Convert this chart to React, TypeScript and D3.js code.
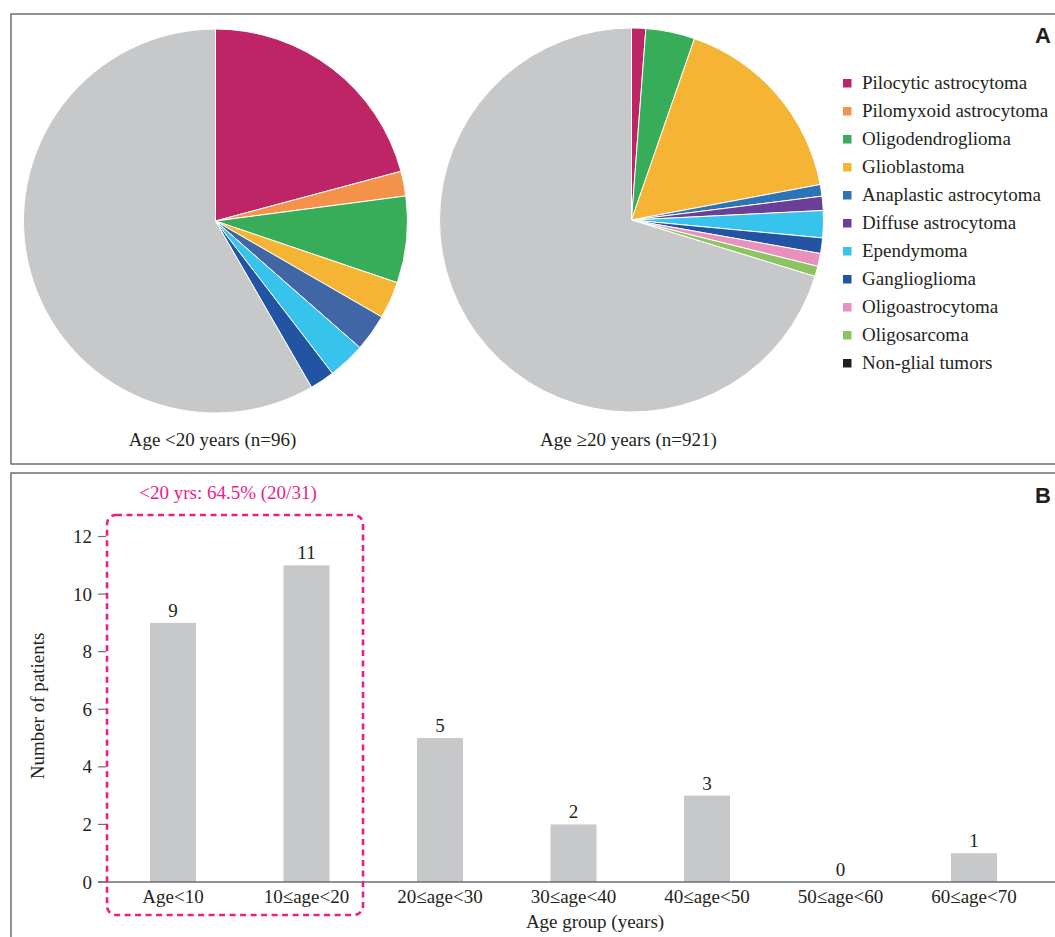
import React from "react";
import * as d3 from "d3";

// panel A data
const tumorTypes = [
  "Pilocytic astrocytoma",
  "Pilomyxoid astrocytoma",
  "Oligodendroglioma",
  "Glioblastoma",
  "Anaplastic astrocytoma",
  "Diffuse astrocytoma",
  "Ependymoma",
  "Ganglioglioma",
  "Oligoastrocytoma",
  "Oligosarcoma",
  "Non-glial tumors",
];
const tumorColors = [
  "#be2567", "#f4924a", "#37ad5a", "#f5b433", "#2c74b5", "#6b3f97",
  "#37c3eb", "#2353a3", "#e891bd", "#8dc462", "#231f20",
];
const youngCounts = [20, 2, 7, 3, 3, 0, 3, 2, 0, 0, 56];
const adultCounts = [11, 0, 38, 154, 9, 11, 21, 12, 10, 8, 647];

// panel B data
const ageGroups = ["Age<10", "10≤age<20", "20≤age<30", "30≤age<40", "40≤age<50", "50≤age<60", "60≤age<70"];
const patients = [9, 11, 5, 2, 3, 0, 1];
const yTicks = [0, 2, 4, 6, 8, 10, 12];

const FONT = "'Liberation Serif', 'Times New Roman', serif";
const INK = "#231f20";
const GRAY = "#c7c8ca";
const PINK = "#ec1c8c";

const Pie = ({ counts, cx, cy, label, override }) => {
  const r = 192;
  const arcs = d3.pie().sort(null).value((d) => d)(counts);
  const arc = d3.arc().innerRadius(0).outerRadius(r);
  const colorOf = (i) => {
    if (i === counts.length - 1) return GRAY;
    if (override && override[i]) return override[i];
    return tumorColors[i];
  };
  return (
    <g>
      <g transform={`translate(${cx},${cy})`}>
        {arcs.map((a, i) =>
          a.value > 0 ? (
            <path key={i} d={arc(a)} fill={colorOf(i)} stroke="#fff" strokeWidth={1} />
          ) : null
        )}
      </g>
      <text x={cx - 3} y={446} textAnchor="middle" fontSize={19}>{label}</text>
    </g>
  );
};

const App = () => {
  const width = 1055;
  const height = 937;

  const y = d3.scaleLinear().domain([0, 12]).range([882, 536.5]);
  const x = d3
    .scaleBand()
    .domain(ageGroups)
    .range([106.25, 1040.75])
    .paddingInner(0.6554)
    .paddingOuter(0.3277);

  const legendY = d3.scalePoint().domain(tumorTypes).range([83, 363]);

  return (
    <div>
      <style>{`body{margin:0}`}</style>
      <svg width={width} height={height} fontFamily={FONT} fill={INK} style={{ display: "block" }}>
        <rect width={width} height={height} fill="#fff" />

        {/* panel frames */}
        <rect x={11} y={14} width={1100} height={450} fill="none" stroke="#58595b" strokeWidth={1.3} />
        <rect x={11} y={473} width={1100} height={500} fill="none" stroke="#58595b" strokeWidth={1.3} />
        <text x={1035} y={43} fontFamily="'Liberation Sans', Arial, sans-serif" fontWeight="bold" fontSize={22}>A</text>
        <text x={1035} y={503} fontFamily="'Liberation Sans', Arial, sans-serif" fontWeight="bold" fontSize={22}>B</text>

        {/* panel A */}
        <Pie counts={youngCounts} cx={215.5} cy={221} label="Age <20 years (n=96)" override={{ 4: "#4066a5" }} />
        <Pie counts={adultCounts} cx={631.5} cy={220} label="Age ≥20 years (n=921)" />

        <g>
          {tumorTypes.map((t, i) => (
            <g key={t} transform={`translate(843,${legendY(t)})`}>
              <rect x={0} y={-4} width={8.5} height={8.5} fill={tumorColors[i]} />
              <text x={19} y={6} fontSize={19}>{t}</text>
            </g>
          ))}
        </g>

        {/* panel B */}
        {patients.map((v, i) => (
          <g key={ageGroups[i]}>
            <rect x={x(ageGroups[i])} y={y(v)} width={x.bandwidth()} height={y(0) - y(v)} fill={GRAY} />
            <text x={x(ageGroups[i]) + x.bandwidth() / 2} y={y(v) - 6} textAnchor="middle" fontSize={19}>{v}</text>
            <text x={x(ageGroups[i]) + x.bandwidth() / 2} y={903} textAnchor="middle" fontSize={19}>{ageGroups[i]}</text>
          </g>
        ))}

        <line x1={98} x2={1060} y1={y(0)} y2={y(0)} stroke="#6d6e71" strokeWidth={1.5} />
        {yTicks.map((t) => (
          <g key={t}>
            <line x1={98} x2={106} y1={y(t)} y2={y(t)} stroke="#6d6e71" strokeWidth={1.2} />
            <text x={92} y={y(t) + 6.5} textAnchor="end" fontSize={19}>{t}</text>
          </g>
        ))}

        <text x={595} y={928} textAnchor="middle" fontSize={19}>Age group (years)</text>
        <text transform="translate(44,706) rotate(-90)" textAnchor="middle" fontSize={19}>Number of patients</text>

        <rect x={107} y={515} width={256} height={400} rx={9} fill="none" stroke={PINK} strokeWidth={2.6} strokeDasharray="6 4.5" />
        <text x={228} y={499} textAnchor="middle" fontSize={19} fill={PINK}>{"<20 yrs: 64.5% (20/31)"}</text>
      </svg>
    </div>
  );
};

export default App;
